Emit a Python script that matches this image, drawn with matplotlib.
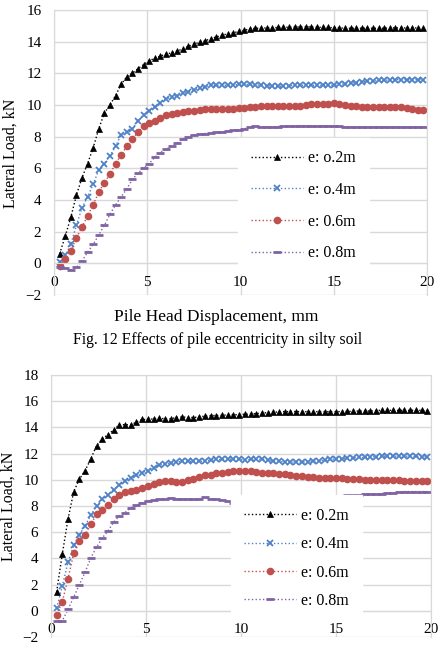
import numpy as np
import matplotlib
matplotlib.use("Agg")
import matplotlib.pyplot as plt

plt.rcParams['font.family'] = ['Liberation Serif', 'DejaVu Serif']

# displacement steps (mm), shared by both charts
disp = [0.3, 0.6, 0.9, 1.2, 1.5, 1.8, 2.1, 2.4, 2.7, 3.0,
        3.3, 3.6, 3.9, 4.2, 4.5, 4.8, 5.1, 5.4, 5.7, 6.0,
        6.3, 6.6, 6.9, 7.2, 7.5, 7.8, 8.1, 8.4, 8.7, 9.0,
        9.3, 9.6, 9.9, 10.2, 10.5, 10.8, 11.1, 11.4, 11.7, 12.0,
        12.3, 12.6, 12.9, 13.2, 13.5, 13.8, 14.1, 14.4, 14.7, 15.0,
        15.3, 15.6, 15.9, 16.2, 16.5, 16.8, 17.1, 17.4, 17.7, 18.0,
        18.3, 18.6, 18.9, 19.2, 19.5, 19.8]

# Fig. 12 (top) - silty soil
top_e02 = [0.6, 1.7, 2.9, 4.3, 5.4, 6.3, 7.3, 8.5, 9.5, 10.0,
           10.6, 11.3, 11.8, 12.0, 12.3, 12.55, 12.8, 12.95, 13.1, 13.2,
           13.3, 13.4, 13.55, 13.7, 13.85, 13.95, 14.05, 14.2, 14.3, 14.4,
           14.5, 14.55, 14.65, 14.72, 14.8, 14.85, 14.85, 14.87, 14.88, 14.9,
           14.9, 14.92, 14.93, 14.93, 14.95, 14.93, 14.92, 14.9, 14.9, 14.88,
           14.87, 14.85, 14.85, 14.85, 14.85, 14.85, 14.85, 14.85, 14.85, 14.87,
           14.87, 14.87, 14.87, 14.87, 14.87, 14.85]
top_e04 = [0.1, 0.5, 1.2, 2.4, 3.5, 4.2, 5.0, 5.9, 6.3, 6.8,
           7.4, 8.1, 8.3, 8.5, 9.0, 9.4, 9.65, 9.85, 10.15, 10.4,
           10.5, 10.6, 10.75, 10.85, 10.95, 11.05, 11.15, 11.25, 11.25, 11.25,
           11.25, 11.25, 11.3, 11.3, 11.3, 11.28, 11.25, 11.22, 11.2, 11.18,
           11.18, 11.22, 11.25, 11.25, 11.25, 11.25, 11.25, 11.25, 11.25, 11.25,
           11.3, 11.35, 11.4, 11.4, 11.45, 11.5, 11.5, 11.55, 11.55, 11.6,
           11.6, 11.6, 11.6, 11.6, 11.6, 11.6]
top_e06 = [-0.15, 0.3, 0.8, 1.6, 2.3, 3.0, 3.7, 4.5, 5.1, 5.65,
           6.3, 6.85, 7.4, 7.85, 8.3, 8.65, 8.85, 9.0, 9.2, 9.35,
           9.45, 9.5, 9.55, 9.6, 9.65, 9.7, 9.75, 9.75, 9.75, 9.75,
           9.75, 9.75, 9.8, 9.82, 9.85, 9.9, 9.92, 9.95, 9.95, 9.95,
           9.95, 9.95, 9.95, 9.97, 10.0, 10.05, 10.05, 10.05, 10.05, 10.1,
           10.05, 10.0, 9.95, 9.95, 9.9, 9.85, 9.85, 9.85, 9.85, 9.85,
           9.85, 9.85, 9.82, 9.75, 9.7, 9.7]
top_e08 = [-0.2, -0.3, -0.4, -0.25, 0.15, 0.7, 1.2, 1.8, 2.4, 3.1,
           3.7, 4.2, 4.7, 5.3, 5.7, 6.0, 6.3, 6.7, 7.0, 7.2,
           7.4, 7.6, 7.85, 8.0, 8.1, 8.15, 8.2, 8.25, 8.27, 8.3,
           8.35, 8.4, 8.45, 8.5, 8.6, 8.65, 8.62, 8.62, 8.63, 8.64,
           8.65, 8.66, 8.68, 8.7, 8.7, 8.69, 8.68, 8.68, 8.68, 8.68,
           8.65, 8.6, 8.6, 8.6, 8.6, 8.61, 8.62, 8.62, 8.62, 8.6,
           8.6, 8.6, 8.6, 8.6, 8.6, 8.6]

# bottom chart
bot_e02 = [1.44, 4.35, 7.0, 9.1, 10.05, 10.7, 11.6, 12.6, 13.1, 13.45,
           13.8, 14.2, 14.2, 14.2, 14.4, 14.6, 14.6, 14.65, 14.7, 14.65,
           14.65, 14.75, 14.8, 14.75, 14.75, 14.8, 14.85, 14.9, 14.9, 14.92,
           14.95, 14.95, 14.98, 15.0, 15.02, 15.05, 15.1, 15.12, 15.15, 15.18,
           15.2, 15.2, 15.2, 15.2, 15.2, 15.2, 15.2, 15.2, 15.2, 15.2,
           15.2, 15.22, 15.22, 15.25, 15.25, 15.25, 15.28, 15.3, 15.3, 15.3,
           15.3, 15.3, 15.3, 15.3, 15.3, 15.25]
bot_e04 = [0.2, 1.9, 3.7, 5.0, 5.8, 6.5, 7.3, 8.0, 8.5, 8.85,
           9.25, 9.6, 9.9, 10.15, 10.35, 10.55, 10.7, 10.9, 11.1, 11.2,
           11.3, 11.35, 11.4, 11.4, 11.4, 11.4, 11.45, 11.5, 11.55, 11.55,
           11.55, 11.6, 11.55, 11.5, 11.55, 11.6, 11.55, 11.5, 11.45, 11.4,
           11.35, 11.35, 11.35, 11.35, 11.35, 11.4, 11.45, 11.5, 11.55, 11.6,
           11.6, 11.65, 11.65, 11.7, 11.7, 11.75, 11.75, 11.8, 11.8, 11.8,
           11.8, 11.8, 11.8, 11.78, 11.75, 11.75]
bot_e06 = [-0.3, 0.7, 2.45, 4.4, 5.3, 5.75, 6.6, 7.35, 7.7, 8.1,
           8.55, 8.85, 9.05, 9.15, 9.25, 9.35, 9.5, 9.7, 9.85, 9.9,
           9.9, 9.85, 9.85, 9.95, 10.05, 10.2, 10.35, 10.4, 10.5, 10.55,
           10.6, 10.65, 10.7, 10.7, 10.65, 10.6, 10.55, 10.5, 10.5, 10.45,
           10.45, 10.35, 10.3, 10.25, 10.2, 10.2, 10.15, 10.1, 10.1, 10.1,
           10.1, 10.05, 10.05, 10.05, 10.0, 10.0, 10.0, 10.0, 9.95, 9.95,
           9.95, 9.9, 9.9, 9.9, 9.9, 9.9]
bot_e08 = [-0.8, -0.75, 0.1, 1.05, 2.0, 2.95, 4.05, 4.85, 5.55, 6.1,
           6.75, 7.25, 7.5, 7.85, 8.05, 8.25, 8.4, 8.45, 8.5, 8.55,
           8.6, 8.55, 8.55, 8.5, 8.5, 8.55, 8.65, 8.55, 8.5, 8.45,
           8.35, 8.25, 8.3, 8.35, 8.4, 8.45, 8.5, 8.55, 8.6, 8.6,
           8.6, 8.65, 8.65, 8.65, 8.65, 8.7, 8.7, 8.7, 8.7, 8.7,
           8.75, 8.8, 8.8, 8.85, 8.9, 8.9, 8.9, 8.95, 9.0, 9.0,
           9.05, 9.1, 9.1, 9.1, 9.1, 9.1]

top_labels = ["e: o.2m", "e: o.4m", "e: 0.6m", "e: 0.8m"]
bot_labels = ["e: 0.2m", "e: 0.4m", "e: 0.6m", "e: 0.8m"]

styles = [
    dict(color="black", marker="^", ms=5, mew=0.5),
    dict(color="#4f81c8", marker="x", ms=4, mew=1.3),
    dict(color="#c0504d", marker="o", ms=5.5, mew=0),
    dict(color="#8064a2", marker="_", ms=6, mew=2),
]
grid_col = "#d9d9d9"


def draw(ax, series, labels, ylim, yticks, leg_anchor, leg_spacing):
    for y, lab, st in zip(series, labels, styles):
        ax.plot(disp, y, linestyle=":", linewidth=1, label=lab, **st)
    ax.set_xlim(0, 20)
    ax.set_ylim(*ylim)
    ax.set_xticks([0, 5, 10, 15, 20])
    ax.set_yticks(yticks)
    ax.grid(True, color=grid_col, linewidth=1)
    ax.set_axisbelow(True)
    for s in ax.spines.values():
        s.set_color(grid_col)
    ax.spines['bottom'].set_position(('data', 0))
    ax.tick_params(length=0, labelsize=11, pad=9)
    leg = ax.legend(loc="center", bbox_to_anchor=leg_anchor, frameon=True,
                    fontsize=11.5, handlelength=3.3, labelspacing=leg_spacing,
                    borderpad=0.8, handletextpad=0.3, fancybox=False)
    leg.get_frame().set_facecolor("white")
    leg.get_frame().set_edgecolor("white")
    leg.get_frame().set_alpha(1)


fig = plt.figure(figsize=(4.39, 6.47), dpi=100)
ax1 = fig.add_axes([0.123, 0.544, 0.850, 0.4405])
ax2 = fig.add_axes([0.116, 0.0155, 0.866, 0.405])

draw(ax1, [top_e02, top_e04, top_e06, top_e08], top_labels,
     (-2, 16), range(-2, 17, 2), (0.668, 0.313), 0.98)
draw(ax2, [bot_e02, bot_e04, bot_e06, bot_e08], bot_labels,
     (-2, 18), range(-2, 19, 2), (0.645, 0.3), 0.78)

fig.text(11 / 439, 1 - 153 / 647, "Lateral Load, kN", rotation=90,
         ha="center", va="center", fontsize=11.5)
fig.text(9 / 439, 1 - 506 / 647, "Lateral Load, kN", rotation=90,
         ha="center", va="center", fontsize=11.5)
fig.text(216 / 439, 1 - 317 / 647, "Pile Head Displacement, mm",
         ha="center", va="center", fontsize=12.5)
fig.text(218 / 439, 1 - 340 / 647, "Fig. 12 Effects of pile eccentricity in silty soil",
         ha="center", va="center", fontsize=11.3)

fig.savefig("out.png", dpi=100)
